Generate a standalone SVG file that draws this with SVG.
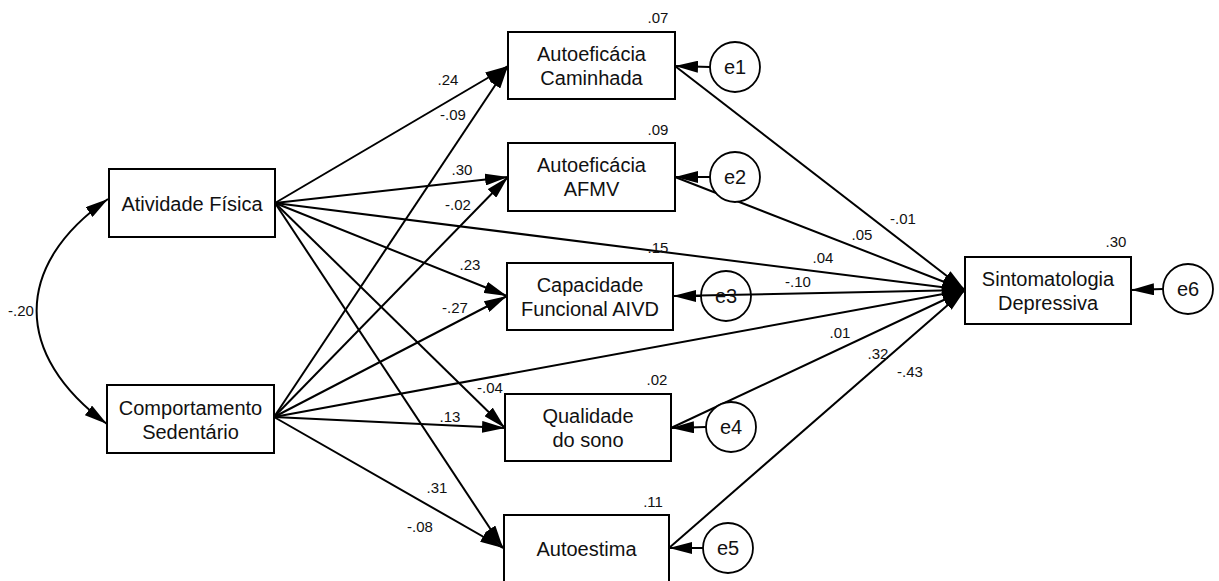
<svg xmlns="http://www.w3.org/2000/svg" width="1219" height="581" viewBox="0 0 1219 581">
<style>
.box{fill:#fff;stroke:#000;stroke-width:2}
.err{fill:#fff;stroke:#000;stroke-width:1.8}
.nt{font-family:"Liberation Sans",Arial,sans-serif;font-size:20px;fill:#111;text-anchor:middle}
.lb{font-family:"Liberation Sans",Arial,sans-serif;font-size:15px;fill:#111;text-anchor:middle}
.ln{fill:none;stroke:#000;stroke-width:2;marker-end:url(#ah)}
</style>
<defs>
<marker id="ah" viewBox="0 0 23 12" refX="23" refY="6" markerWidth="23" markerHeight="12" markerUnits="userSpaceOnUse" orient="auto-start-reverse">
<path d="M0,0 L23,6 L0,12 z" fill="#000"/>
</marker>
</defs>
<rect width="1219" height="581" fill="#fff"/>
<g id="connectors">
<path class="ln" d="M108,199 C13,265 13,355 107,424" marker-start="url(#ah)"/>
<line class="ln" x1="275" y1="203" x2="508" y2="66"/>
<line class="ln" x1="275" y1="203" x2="508" y2="177"/>
<line class="ln" x1="275" y1="203" x2="507" y2="296"/>
<line class="ln" x1="275" y1="203" x2="505" y2="428"/>
<line class="ln" x1="275" y1="203" x2="503" y2="548"/>
<line class="ln" x1="275" y1="203" x2="965" y2="290"/>
<line class="ln" x1="274" y1="417" x2="508" y2="66"/>
<line class="ln" x1="274" y1="417" x2="508" y2="177"/>
<line class="ln" x1="274" y1="417" x2="507" y2="296"/>
<line class="ln" x1="274" y1="417" x2="505" y2="428"/>
<line class="ln" x1="274" y1="417" x2="503" y2="548"/>
<line class="ln" x1="274" y1="417" x2="965" y2="290"/>
<line class="ln" x1="675" y1="66" x2="965" y2="290"/>
<line class="ln" x1="675" y1="177" x2="965" y2="290"/>
<line class="ln" x1="673" y1="296" x2="965" y2="290"/>
<line class="ln" x1="671" y1="428" x2="965" y2="290"/>
<line class="ln" x1="669" y1="548" x2="965" y2="290"/>
<line class="ln" x1="710" y1="67" x2="675" y2="66"/>
<line class="ln" x1="710" y1="177" x2="675" y2="177"/>
<line class="ln" x1="701" y1="296" x2="673" y2="296"/>
<line class="ln" x1="706" y1="427" x2="671" y2="428"/>
<line class="ln" x1="703" y1="548" x2="669" y2="548"/>
<line class="ln" x1="1163" y1="289" x2="1131" y2="290"/>
</g>
<g id="labels">
<text class="lb" x="658" y="23">.07</text>
<text class="lb" x="658" y="135">.09</text>
<text class="lb" x="448" y="85">.24</text>
<text class="lb" x="453" y="120">-.09</text>
<text class="lb" x="462" y="175">.30</text>
<text class="lb" x="458" y="210">-.02</text>
<text class="lb" x="658" y="253">.15</text>
<text class="lb" x="470" y="270">.23</text>
<text class="lb" x="455" y="313">-.27</text>
<text class="lb" x="657" y="385">.02</text>
<text class="lb" x="490" y="393">-.04</text>
<text class="lb" x="450" y="422">.13</text>
<text class="lb" x="437" y="493">.31</text>
<text class="lb" x="420" y="532">-.08</text>
<text class="lb" x="653" y="507">.11</text>
<text class="lb" x="903" y="224">-.01</text>
<text class="lb" x="862" y="240">.05</text>
<text class="lb" x="823" y="263">.04</text>
<text class="lb" x="798" y="287">-.10</text>
<text class="lb" x="1116" y="247">.30</text>
<text class="lb" x="840" y="338">.01</text>
<text class="lb" x="878" y="359">.32</text>
<text class="lb" x="910" y="377">-.43</text>
<text class="lb" x="21" y="316">-.20</text>
</g>
<g id="n-af"><rect class="box" x="109" y="169" width="166" height="68"/><text class="nt" x="192" y="211">Atividade Física</text></g>
<g id="n-cs"><rect class="box" x="107" y="385" width="167" height="68"/><text class="nt" x="190.5" y="415">Comportamento</text><text class="nt" x="190.5" y="439">Sedentário</text></g>
<g id="n-ac"><rect class="box" x="508" y="32" width="167" height="67"/><text class="nt" x="591.5" y="61">Autoeficácia</text><text class="nt" x="591.5" y="85">Caminhada</text></g>
<g id="n-afmv"><rect class="box" x="508" y="143" width="167" height="68"/><text class="nt" x="591.5" y="172">Autoeficácia</text><text class="nt" x="591.5" y="196">AFMV</text></g>
<g id="n-cap"><rect class="box" x="507" y="263" width="166" height="67"/><text class="nt" x="590" y="292">Capacidade</text><text class="nt" x="590" y="316">Funcional AIVD</text></g>
<g id="n-qs"><rect class="box" x="505" y="394" width="166" height="67"/><text class="nt" x="588" y="423">Qualidade</text><text class="nt" x="588" y="447">do sono</text></g>
<g id="n-ae"><rect class="box" x="504" y="515" width="165" height="68"/><text class="nt" x="586.5" y="556">Autoestima</text></g>
<g id="n-sd"><rect class="box" x="965" y="257" width="166" height="67"/><text class="nt" x="1048" y="286">Sintomatologia</text><text class="nt" x="1048" y="310">Depressiva</text></g>
<g id="n-e1"><circle class="err" cx="735" cy="67" r="25"/><text class="nt" x="735" y="74">e1</text></g>
<g id="n-e2"><circle class="err" cx="735" cy="177" r="25"/><text class="nt" x="735" y="184">e2</text></g>
<g id="n-e3"><circle class="err" cx="726" cy="296" r="25" style="fill:none"/><text class="nt" x="726" y="303">e3</text></g>
<g id="n-e4"><circle class="err" cx="731" cy="427" r="25"/><text class="nt" x="731" y="434">e4</text></g>
<g id="n-e5"><circle class="err" cx="728" cy="548" r="25"/><text class="nt" x="728" y="555">e5</text></g>
<g id="n-e6"><circle class="err" cx="1188" cy="289" r="25"/><text class="nt" x="1188" y="296">e6</text></g>
</svg>
